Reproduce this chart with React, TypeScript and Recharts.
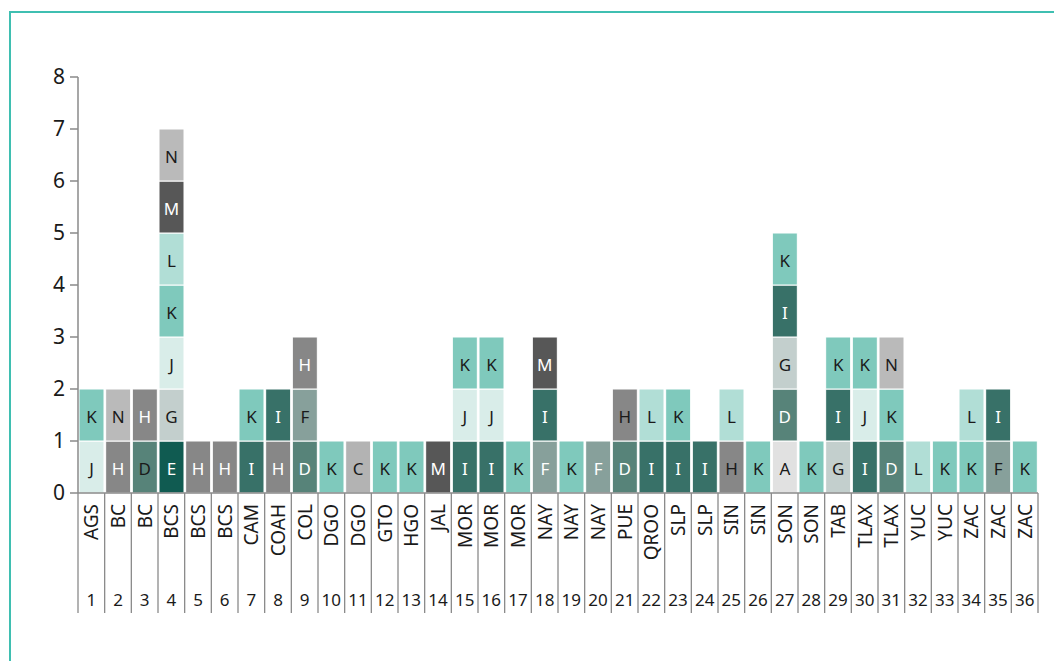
import { BarChart, Bar, XAxis, YAxis, Cell, LabelList } from "recharts"

// columnas: estado, número y pila de categorías (de abajo hacia arriba)
const STATES = [
  "AGS", "BC", "BC", "BCS", "BCS", "BCS", "CAM", "COAH", "COL", "DGO", "DGO", "GTO",
  "HGO", "JAL", "MOR", "MOR", "MOR", "NAY", "NAY", "NAY", "PUE", "QROO", "SLP", "SLP",
  "SIN", "SIN", "SON", "SON", "TAB", "TLAX", "TLAX", "YUC", "YUC", "ZAC", "ZAC", "ZAC",
]
const NUMBERS = [
  "1", "2", "3", "4", "5", "6", "7", "8", "9", "10", "11", "12",
  "13", "14", "15", "16", "17", "18", "19", "20", "21", "22", "23", "24",
  "25", "26", "27", "28", "29", "30", "31", "32", "33", "34", "35", "36",
]
const STACKS = [
  "JK", "HN", "DH", "EGJKLMN", "H", "H", "IK", "HI", "DFH", "K", "C", "K",
  "K", "M", "IJK", "IJK", "K", "FIM", "K", "F", "DH", "IL", "IK", "I",
  "HL", "K", "ADGIK", "K", "GIK", "IJK", "DKN", "L", "K", "KL", "FI", "K",
]
const Y_TICKS = [0, 1, 2, 3, 4, 5, 6, 7, 8]

const COLORS: Record<string, string> = {
  A: "#e1e1e1",
  C: "#b3b3b3",
  D: "#578379",
  E: "#105b51",
  F: "#87a09b",
  G: "#c3cfcd",
  H: "#878787",
  I: "#387168",
  J: "#d9ede9",
  K: "#7fc9bc",
  L: "#b1ded6",
  M: "#575757",
  N: "#bababa",
}
const WHITE_TEXT = new Set(["D", "E", "H", "I", "M"])
// celdas donde el texto va al revés
const INVERTED = new Set(["2-D", "20-H", "24-H", "17-F", "19-F"])

const LEVELS = [0, 1, 2, 3, 4, 5, 6]
const W = 1054
const H = 661
const M = { top: 77, right: 16, left: 18, bottom: 0 }
const Y_W = 60
const PLOT_W = W - M.left - M.right - Y_W
const BAND = PLOT_W / STATES.length
const AXIS = "#8a8a8a"
const FONT = "'Noto Sans', 'Open Sans', sans-serif"

const rows = STATES.map((s, i) => {
  const r: Record<string, any> = { key: i, state: s, num: NUMBERS[i] }
  LEVELS.forEach(k => {
    const c = STACKS[i][k]
    r[`l${k}`] = c ? 1 : 0
    r[`c${k}`] = c || ""
  })
  return r
})

function textFill(col: number, letter: string) {
  let white = WHITE_TEXT.has(letter)
  if (INVERTED.has(`${col}-${letter}`)) white = !white
  return white ? "#ffffff" : "#1a1a1a"
}

function StateTick(props: any) {
  const { x, y, index } = props
  const last = index === STATES.length - 1
  return (
    <g>
      <line x1={x - BAND / 2} x2={x - BAND / 2} y1={y} y2={y + 120} stroke={AXIS} strokeWidth={1.3} />
      {last && (
        <line x1={x + BAND / 2} x2={x + BAND / 2} y1={y} y2={y + 120} stroke={AXIS} strokeWidth={1.3} />
      )}
      <text
        x={x}
        y={y + 11}
        transform={`rotate(-90 ${x} ${y + 11})`}
        textAnchor="end"
        dominantBaseline="central"
        fontSize={19}
        fontFamily={FONT}
        fill="#1a1a1a"
      >
        {STATES[index]}
      </text>
      <text
        x={x}
        y={y + 106}
        textAnchor="middle"
        dominantBaseline="central"
        fontSize={17}
        fontFamily={FONT}
        fill="#1a1a1a"
      >
        {NUMBERS[index]}
      </text>
    </g>
  )
}

// el valor trae "columna|letra"
function CellLabel(p: any) {
  const { x, y, width, height, value } = p
  if (!value || !height) return null
  const [col, letter] = String(value).split("|")
  if (!letter) return null
  return (
    <text
      x={x + width / 2}
      y={y + height / 2 + 1}
      textAnchor="middle"
      dominantBaseline="central"
      fontSize={17}
      fontFamily={FONT}
      fill={textFill(Number(col), letter)}
    >
      {letter}
    </text>
  )
}

export default function App() {
  return (
    <div style={{ position: "absolute", left: 0, top: 0, width: W, height: H, overflow: "hidden", background: "#fff" }}>
      <div
        style={{
          position: "absolute",
          left: 9,
          top: 11,
          width: W + 40,
          height: H + 40,
          borderLeft: "2px solid #3fbfb1",
          borderTop: "2px solid #3fbfb1",
        }}
      />
      <div style={{ position: "absolute", left: 0, top: 0 }}>
        <BarChart width={W} height={H} data={rows} margin={M} barCategoryGap={1}>
          <XAxis
            dataKey="key"
            type="category"
            height={H - 493 - M.bottom}
            axisLine={{ stroke: AXIS, strokeWidth: 1.5 }}
            tickLine={false}
            tickSize={0}
            tickMargin={0}
            interval={0}
            tick={<StateTick />}
          />
          <YAxis
            width={Y_W}
            domain={[0, 8]}
            ticks={Y_TICKS}
            allowDecimals={false}
            axisLine={{ stroke: AXIS, strokeWidth: 1.5 }}
            tickLine={{ stroke: AXIS, strokeWidth: 1.5 }}
            tickSize={8}
            tickMargin={5}
            tick={{ fontSize: 21, fontFamily: FONT, fill: "#1a1a1a" }}
          />
          {LEVELS.map(k => (
            <Bar
              key={k}
              dataKey={`l${k}`}
              stackId="s"
              stroke="#ffffff"
              strokeWidth={1}
              isAnimationActive={false}
            >
              {rows.map((r, i) => (
                <Cell key={i} fill={COLORS[r[`c${k}`]] || "transparent"} />
              ))}
              <LabelList
                dataKey={(r: any) => (r[`c${k}`] ? `${r.key}|${r[`c${k}`]}` : "")}
                content={<CellLabel />}
              />
            </Bar>
          ))}
        </BarChart>
      </div>
    </div>
  )
}
